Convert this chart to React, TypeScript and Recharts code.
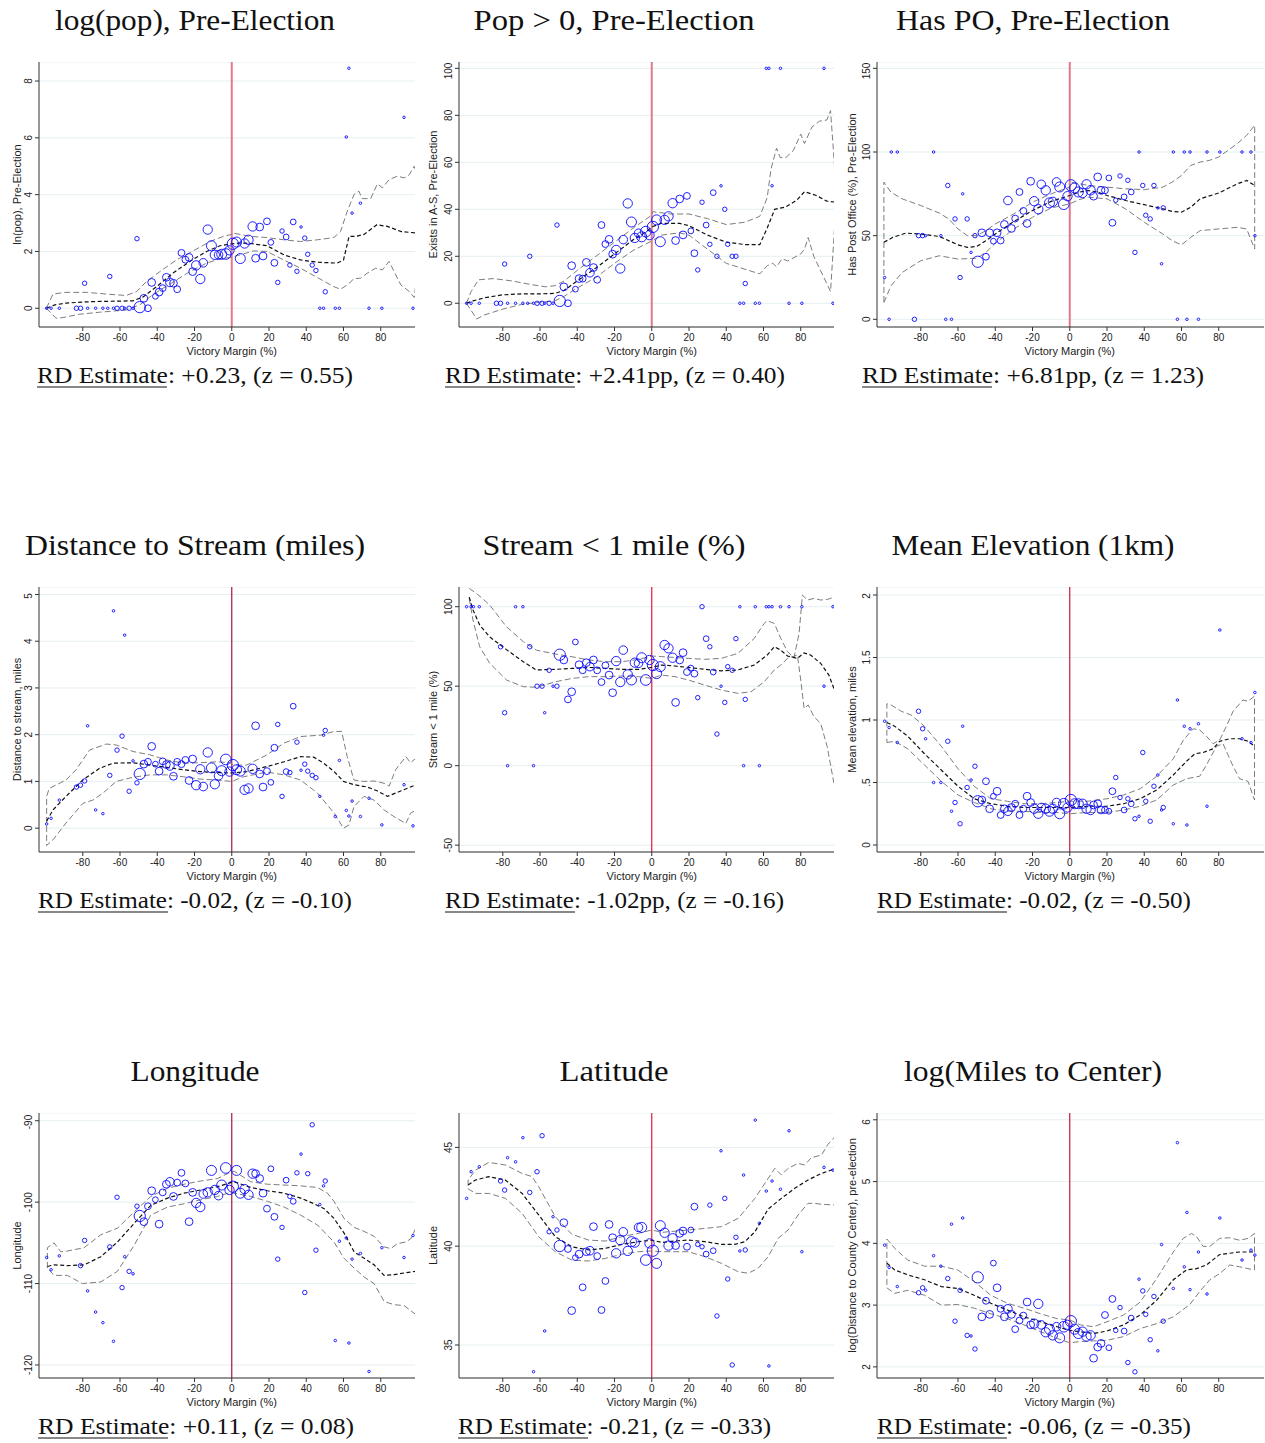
import React from 'react'
import { ScatterChart, Scatter, XAxis, YAxis, ZAxis, CartesianGrid, ReferenceLine } from 'recharts'

type Pt = [number, number]
type Val = number | null

// binned victory margins (%), shared by every panel, with bin weights
const MARGIN = [
  -99.4, -97, -95.8, -92.6, -83.4, -81.2, -79, -77.4, -73.1, -69.2,
  -66.6, -65.5, -63.5, -61.6, -58.9, -57.5, -55.1, -53, -50.9, -49.4,
  -47.2, -45, -43, -41, -39, -37.1, -35.1, -33.2, -31.3, -29.3,
  -27, -24.9, -22.9, -21, -19.1, -16.9, -15.3, -12.9, -10.9, -9.1,
  -7.1, -5.4, -3.2, -1.2, 0.6, 2.6, 4.6, 6.9, 9, 11.2,
  12.8, 15, 16.8, 18.9, 21, 22.9, 24.7, 27, 29.2, 31.2,
  33, 35, 37.2, 39.2, 40.8, 43.2, 45.2, 47.3, 49.3, 50.2,
  55.6, 57.8, 61.5, 62.9, 64.6, 69.1, 73.7, 80.6, 92.5, 97.3,
  99.4,
]
const WEIGHT = [
  1, 1, 1, 1, 2, 2, 2, 1, 1, 1,
  1, 2, 1, 2, 2, 1, 2, 1, 2, 10,
  5, 4, 5, 3, 5, 4, 5, 6, 5, 4,
  4, 4, 5, 5, 7, 7, 6, 7, 8, 7,
  6, 8, 9, 7, 10, 8, 8, 7, 7, 7,
  5, 5, 5, 4, 3, 4, 2, 2, 3, 2,
  3, 2, 1, 2, 2, 2, 2, 1, 1, 2,
  1, 1, 1, 1, 1, 1, 1, 1, 1, 1,
  1,
]

const LOGPOP: Val[] = [
  0, 0, null, 0, 0, 0, 0.88, 0, 0, 0,
  0, 1.12, 0, 0, 0, 0, 0, 0, 2.45, 0.04,
  0.35, 0, 0.91, 0.42, 0.57, 0.71, 1.09, 0.91, 0.88, 0.67,
  1.95, 1.71, 1.79, 1.29, 1.51, 1.03, 1.6, 2.77, 2.2, 1.88,
  1.88, 1.9, 1.91, 2.04, 2.27, 2.33, 1.75, 2.28, 2.41, 2.88,
  1.76, 2.86, 1.84, 3.06, 2.32, 1.6, 0.91, 2.72, 2.51, 1.52,
  3.04, 1.3, 2.86, 2.47, 1.9, 1.52, 1.33, 0, 0, 0.58,
  0, 0, 6.03, 8.45, 3.35, 3.7, 0, 0, 6.72, 0,
  null,
]
const POP0: Val[] = [
  0, 0, null, 0, 0, 0, 16.7, 0, 0, 0,
  0, 20, 0, 0, 0, 0, 0, 0, 33.3, 1,
  7, 0, 16, 6, 10.5, 10.5, 17.4, 13, 15.2, 10,
  33.3, 25.2, 27.2, 20.9, 22.7, 14.8, 27.1, 42.5, 34.6, 27.8,
  29.8, 28.3, 30.5, 29, 32.5, 35.5, 26.2, 35.5, 37, 42.6,
  26.7, 44.4, 29.1, 45.7, 30.8, 21.3, 14.2, 43, 33.3, 25.1,
  47.1, 20, 50, 40, 25.1, 20, 20, 0, 0, 8.4,
  0, 0, 100, 100, 50, 100, 0, 0, 100, 0,
  null,
]
const HASPO: Val[] = [
  25, 0, 100, 100, 0, 50, 50, 50, 100, 50,
  0, 80, 0, 60, 25, 75, 60, 40, 50, 34.4,
  51.7, 37.4, 51.7, 46.7, 51.7, 47.1, 56.7, 71, 54.3, 60.2,
  76.1, 64.8, 57.3, 82.5, 70.6, 65.8, 80.7, 77.1, 69.6, 70.2,
  82.1, 79.1, 68.8, 73.6, 80.1, 78.5, 76.1, 75.5, 80.7, 77.1,
  73.6, 85.1, 77.1, 77.1, 84.5, 57.7, 71.2, 85.7, 73.2, 83.1,
  76.1, 40, 100, 80, 62.2, 60, 80, 66.6, 33.2, 66.6,
  100, 0, 100, 0, 100, 0, 100, 100, 100, 100,
  50,
]
const STREAMDIST: Val[] = [
  0.09, 0.21, null, 0.6, 0.88, 0.92, 1.01, 2.19, 0.39, 0.31,
  null, 1.13, 4.65, 1.67, 1.97, 4.13, 0.79, 1.44, 0.97, 1.16,
  1.37, 1.42, 1.75, 1.37, 1.22, 1.43, 1.36, 1.33, 1.11, 1.42,
  1.37, 1.46, 1.02, 1.48, 0.92, 1.26, 0.89, 1.62, 1.29, 0.94,
  1.12, 1.23, 1.47, 1.21, 1.35, 1.25, 1.22, 0.82, 0.85, 1.27,
  2.19, 1.16, 0.88, 1.22, 0.98, 1.72, 2.22, 0.68, 1.21, 1.19,
  2.61, 1.84, 1.24, 1.37, 1.22, 1.13, 1.08, 0.68, 1.99, 2.09,
  0.25, 1.45, 0.38, 0.26, 0.58, 0.25, 0.64, 0.07, 0.93, 0.05,
  null,
]
const STREAM1: Val[] = [
  100, 100, 100, 100, null, 74.8, 33.3, 0, 100, 100,
  null, 74.8, 0, 50, 50, 33.3, 60, 50, 50, 69.8,
  66.5, 41.7, 46.5, 77.8, 63.5, 60, 64.8, 62.3, 66.5, 60,
  52.6, 63.1, 57, 45.9, 65.8, 52.6, 72.7, 57.4, 53.9, 64.8,
  64.4, 67.9, 53.9, 66.5, 63.3, 57.9, 62.3, 75.9, 73.8, 67.9,
  39.8, 66.5, 71.1, 58.9, 61.4, 57.9, 42.8, 100, 79.9, 74.8,
  58.9, 19.9, 50, 39.8, 62.3, 60, 79.9, 100, 0, 41.7,
  100, 0, 100, 100, 100, 100, 100, 100, 50, 100,
  null,
]
const ELEV: Val[] = [
  0.99, 0.94, null, 0.82, null, 1.07, 0.93, 0.85, 0.5, 0.5,
  null, 0.83, 0.27, 0.34, 0.17, 0.95, 0.46, 0.52, 0.63, 0.35,
  0.36, 0.51, 0.29, 0.39, 0.43, 0.24, 0.29, 0.27, 0.3, 0.33,
  0.24, 0.29, 0.39, 0.34, 0.29, 0.25, 0.3, 0.29, 0.27, 0.29,
  0.34, 0.25, 0.33, 0.3, 0.36, 0.33, 0.33, 0.33, 0.29, 0.28,
  0.32, 0.33, 0.28, 0.28, 0.27, 0.43, 0.54, 0.38, 0.28, 0.37,
  0.33, 0.21, 0.23, 0.74, 0.35, 0.19, 0.47, 0.56, 0.28, 0.3,
  0.17, 1.16, 0.95, 0.16, 0.93, 0.97, 0.31, 1.72, 0.85, 0.82,
  1.22,
]
const LONG: Val[] = [
  -106.8, -108.3, null, -106.6, null, -107.8, -104.7, -110.9, -113.5, -114.8,
  null, -105.5, -117.1, -99.4, -110.5, -106.7, -108.5, -108.8, -100.5, -101.7,
  -102.4, -100.5, -98.6, -99.7, -102.7, -98.8, -97.8, -97.5, -99.3, -97.6,
  -96.4, -97.7, -102.4, -98.8, -100.1, -100.6, -99, -98.8, -96.1, -98.5,
  -99.2, -97.9, -95.8, -98.5, -98.1, -96.1, -98.9, -98.4, -99.1, -96.5,
  -96.5, -97.1, -98.9, -100.8, -95.9, -101.8, -107, -103.1, -97.3, -99.3,
  -99.9, -96.4, -94.1, -111.1, -96.5, -90.5, -105.9, -100.3, -98, -97.4,
  -117, -104.8, -104.4, -117.3, -107, -106.3, -120.8, -105.6, -106.8, -104.1,
  null,
]
const LAT: Val[] = [
  42.42, 43.77, null, 44.02, null, 43.3, 42.84, 44.48, 44.27, 45.49,
  null, 42.72, 33.65, 43.77, 45.59, 35.71, 40.73, 41.49, 40.82, 40.01,
  41.19, 39.86, 36.74, 39.42, 39.6, 37.92, 39.72, 39.77, 40.99, 39.5,
  36.77, 38.24, 41.1, 40.43, 39.64, 40.31, 40.73, 39.76, 40.23, 40.18,
  40.95, 40.95, 39.3, 40.14, 39.77, 39.13, 41.04, 40.68, 40.03, 40.4,
  40.03, 40.65, 40.77, 39.97, 40.82, 42, 40.09, 39.97, 39.6, 42.08,
  39.77, 36.47, 44.83, 42.42, 38.34, 33.99, 40.45, 39.76, 43.6, 39.81,
  46.38, 41.16, 42.79, 33.94, 43.3, 42.88, 45.84, 39.72, 43.99, 43.85,
  null,
]
const CENTERDIST: Val[] = [
  3.97, 3.61, null, 3.3, null, 3.2, 3.28, 3.24, 3.8, 3.63,
  null, 3.43, 4.31, 2.74, 3.24, 4.41, 2.51, 2.5, 2.29, 3.45,
  2.81, 3.07, 2.85, 3.68, 3.28, 2.94, 2.81, 2.94, 2.85, 2.61,
  2.75, 2.83, 3.05, 2.68, 2.7, 3.02, 2.68, 2.56, 2.61, 2.51,
  2.65, 2.47, 2.65, 2.68, 2.74, 2.61, 2.54, 2.57, 2.49, 2.51,
  2.14, 2.32, 2.38, 2.84, 2.31, 3.1, 2.59, 2.96, 2.58, 2.07,
  2.79, 1.92, 3.42, 3.23, 2.85, 2.44, 3.14, 2.26, 3.98, 2.74,
  3.27, 5.63, 3.62, 4.5, 3.25, 3.86, 3.18, 4.41, 3.73, 3.89,
  3.81,
]

// local polynomial fit and 95% CI
const LOGPOP_MID: Pt[] = [[-99.5, 0], [-95, 0.12], [-89, 0.18], [-80, 0.22], [-71, 0.24], [-62, 0.25], [-53, 0.26], [-47.6, 0.4], [-40.4, 0.76], [-31.5, 1.24], [-22.5, 1.65], [-13.5, 2], [-6.3, 2.2], [0, 2.27], [5, 2.3], [10, 2.28], [19, 2.2], [28, 1.88], [37, 1.7], [46, 1.62], [56.6, 1.59], [60, 1.7], [63, 2.53], [66.5, 2.53], [71, 2.6], [78, 2.94], [83.6, 2.88], [91, 2.7], [99, 2.65]]
const LOGPOP_UP: Pt[] = [[-99.5, 0], [-96, 0.5], [-89, 0.56], [-78, 0.56], [-65.6, 0.49], [-56.6, 0.45], [-51, 0.59], [-45.8, 0.94], [-38.6, 1.29], [-29.7, 1.7], [-20.7, 2.02], [-11.7, 2.35], [-4.5, 2.53], [0, 2.6], [0.5, 2.65], [9.9, 2.53], [18.9, 2.49], [27.9, 2.41], [36.9, 2.35], [46, 2.41], [54.8, 2.49], [58.4, 2.7], [62, 3.41], [65.6, 4], [68.3, 4.12], [70, 3.86], [74.6, 3.86], [78.2, 4.38], [80.9, 4.24], [84.5, 4.53], [89, 4.65], [92.6, 4.59], [95.3, 4.7], [98, 5], [99, 4.8]]
const LOGPOP_LO: Pt[] = [[-99.5, 0], [-94.4, -0.35], [-90.8, -0.33], [-81.8, -0.21], [-71, -0.14], [-56.6, -0.06], [-49.4, 0.12], [-42.2, 0.49], [-31.5, 0.92], [-22.5, 1.29], [-13.5, 1.59], [-6.3, 1.74], [0, 1.8], [4.5, 1.88], [11.7, 2.02], [18.9, 2], [27.9, 1.7], [36.9, 1.41], [46, 1.08], [54.8, 0.76], [58.4, 0.67], [62, 0.82], [65.6, 1.04], [69.2, 1.06], [72.8, 1.24], [77.3, 1.41], [80.9, 1.35], [84.5, 1.65], [87.2, 1.29], [90.8, 0.82], [95.3, 0.59], [98, 0.38], [99, 0.94]]

const POP0_MID: Pt[] = [[-99.5, 0], [-96, 1], [-90, 2.3], [-80, 3.6], [-70, 4], [-60, 4], [-52, 4.2], [-47, 5.5], [-40, 9.5], [-30, 15], [-20, 21], [-10, 27], [-3, 30.5], [0, 32.5], [5, 34], [15, 34], [20, 33], [30, 29], [40, 26], [50, 25], [58, 25], [62, 32], [66, 40], [72, 41], [78, 44], [82, 47.5], [88, 46], [94, 43.5], [99, 43]]
const POP0_UP: Pt[] = [[-99.5, 0], [-97, 5], [-93, 10], [-85, 10.5], [-75, 9.5], [-65, 8], [-57, 7], [-52, 7.5], [-47, 9.5], [-40, 14], [-30, 20], [-20, 26], [-10, 32], [0, 37.5], [0.5, 39], [10, 38], [20, 38], [30, 36], [40, 33.5], [50, 34.5], [58, 37], [62, 45], [64, 57], [67, 66], [69, 62], [72, 62], [76, 65], [80, 72], [82, 68], [86, 75], [90, 77.5], [94, 78], [96, 82], [98, 60], [99, 46]]
const POP0_LO: Pt[] = [[-99.5, 0], [-97, -3], [-94, -6.7], [-90, -5], [-80, -2.5], [-70, -0.5], [-60, 0.5], [-52, 1], [-47, 3], [-40, 6.5], [-30, 11], [-20, 17], [-10, 22.5], [0, 26.5], [5, 29], [15, 30], [20, 29], [30, 23], [40, 17], [50, 14.5], [58, 12.5], [62, 16], [65, 17], [67, 15.5], [70, 19], [73, 18], [80, 21], [82, 23], [84, 28], [87, 20], [90, 15], [96, 5], [99, 43]]

const HASPO_MID: Pt[] = [[-99.8, 46], [-95, 49], [-88, 51.5], [-80, 51], [-70, 49.5], [-60, 44.5], [-55, 43], [-50, 43.5], [-45, 47], [-40, 51], [-30, 58.5], [-20, 65], [-10, 70.5], [0, 74], [5, 76], [10, 77], [15, 76], [20, 74], [30, 71], [40, 68.5], [50, 66], [55, 64.5], [60, 64], [65, 67], [70, 72], [80, 75.5], [90, 81], [95, 83], [99.3, 80]]
const HASPO_UP: Pt[] = [[-99.8, 82], [-96, 76], [-90, 72], [-80, 68], [-70, 63.5], [-65, 60], [-60, 54], [-55, 50], [-50, 50], [-45, 53], [-40, 57], [-30, 63], [-20, 70], [-10, 75], [0, 79], [0.5, 82], [10, 80], [20, 79], [30, 78], [40, 77.5], [50, 79], [55, 82], [60, 86], [65, 92], [70, 94], [75, 95], [80, 97], [90, 105], [95, 110], [99.3, 116]]
const HASPO_LO: Pt[] = [[-99.8, 10], [-96, 20], [-90, 28], [-80, 35], [-70, 38], [-60, 36], [-50, 36.5], [-45, 40], [-40, 45.5], [-30, 54], [-20, 61], [-10, 66.5], [0, 69], [5, 71.5], [10, 73], [20, 72], [30, 66], [40, 58], [50, 51], [55, 47], [60, 44.5], [65, 49], [70, 53], [80, 54], [90, 55], [95, 54], [99.3, 42]]

const STREAMDIST_MID: Pt[] = [[-99.4, 0.15], [-96, 0.39], [-89, 0.68], [-80, 1.03], [-71, 1.28], [-63.8, 1.39], [-53, 1.4], [-44, 1.35], [-35, 1.3], [-26, 1.25], [-17, 1.21], [-8, 1.19], [0, 1.18], [8, 1.21], [19, 1.32], [28, 1.42], [37, 1.53], [44, 1.52], [49.4, 1.39], [55, 1.21], [60, 1], [65.6, 0.93], [72.8, 0.88], [78, 0.8], [83.6, 0.68], [91, 0.8], [99, 0.93]]
const STREAMDIST_UP: Pt[] = [[-99.4, 0.68], [-98, 0.85], [-89, 1.03], [-83.6, 1.25], [-76.4, 1.67], [-67.4, 1.8], [-62, 1.78], [-53, 1.64], [-44, 1.57], [-35, 1.46], [-26, 1.39], [-17, 1.4], [-8, 1.42], [-1, 1.4], [1, 1.35], [8, 1.35], [19, 1.57], [28, 1.82], [37, 1.96], [47.6, 1.99], [55, 2.07], [59, 2.07], [62, 1.53], [65.6, 1.03], [71, 1], [76.4, 1.01], [81.8, 0.96], [84.5, 0.9], [88, 1.25], [93.5, 1.53], [96, 1.4], [99, 1.5]]
const STREAMDIST_LO: Pt[] = [[-99.4, -0.37], [-96, -0.25], [-89, 0.11], [-80, 0.53], [-74.6, 0.6], [-69.2, 0.75], [-62, 1], [-53, 1.09], [-44, 1.14], [-35, 1.14], [-26, 1.1], [-17, 1.05], [-8, 1.03], [0, 1], [6.3, 1.1], [19, 1.2], [28, 1.14], [37, 1.03], [46, 0.75], [55, 0.32], [60, 0], [63, 0.07], [65.6, 0.46], [71, 0.68], [76.4, 0.6], [81.8, 0.39], [87, 0.25], [93.5, 0.1], [96, 0.32], [99, 0.39]]

const STREAM1_MID: Pt[] = [[-98, 106], [-96, 98], [-92.4, 88.5], [-87, 81], [-78, 73], [-69, 65.4], [-62, 60.2], [-51.6, 60.6], [-42.7, 61.2], [-33.8, 61.8], [-24.9, 61.2], [-16, 60.6], [-7, 60.6], [0, 61.8], [5.3, 63.3], [12.4, 62.7], [19.6, 61.8], [28.4, 60.6], [37.3, 59.7], [46.2, 60.2], [55, 63.3], [62, 69.6], [65.8, 74.8], [69.3, 72.7], [72.9, 69], [78.2, 67.5], [81.8, 71], [85.3, 69.6], [90.7, 64.4], [95.1, 57], [97.8, 48.6]]
const STREAM1_UP: Pt[] = [[-98, 111.5], [-94.2, 108.4], [-90.7, 105], [-87, 101], [-78, 87.4], [-69, 78], [-62, 72.7], [-51.6, 70.2], [-42.7, 68.5], [-33.8, 66.5], [-24.9, 65.4], [-16, 65.4], [-7, 66.9], [0, 69], [5.3, 68.6], [19.6, 67.5], [28.4, 66.9], [37.3, 67.5], [46.2, 70.6], [55, 80], [60.4, 89.5], [62, 91.2], [65.8, 89.5], [69.3, 80], [72.9, 71.7], [76.4, 67.9], [79.1, 83.2], [80.9, 107.3], [83.6, 104.2], [87.1, 105.2], [90.7, 104.2], [94.2, 104.6], [97.8, 105.9]]
const STREAM1_LO: Pt[] = [[-98, 105.2], [-96, 91.6], [-92.4, 74.8], [-87, 64.4], [-78, 53.9], [-69, 49.7], [-62, 49.3], [-51.6, 52.8], [-42.7, 54.9], [-33.8, 56], [-24.9, 56], [-16, 56.4], [-7, 56], [0, 54.9], [5.3, 57], [12.4, 56], [19.6, 53.9], [28.4, 50.7], [37.3, 47.6], [46.2, 45.5], [53.3, 46.5], [60.4, 52.8], [65.8, 60.2], [69.3, 63.3], [72.9, 67.5], [78.2, 69.6], [80, 53.9], [81.8, 36], [84, 38.2], [87.1, 30.8], [90.7, 26.6], [94.2, 12], [97.8, -11]]

const ELEV_MID: Pt[] = [[-98.2, 0.98], [-94, 0.95], [-87, 0.87], [-78, 0.73], [-69, 0.6], [-60, 0.47], [-51.3, 0.37], [-42.4, 0.33], [-33.5, 0.31], [-24.6, 0.3], [-15.7, 0.3], [-6.8, 0.3], [0, 0.3], [9.3, 0.31], [20, 0.31], [28.9, 0.33], [37.8, 0.37], [46.7, 0.44], [55.6, 0.56], [62.7, 0.67], [67.2, 0.73], [71.6, 0.74], [77, 0.77], [80.5, 0.83], [85.9, 0.85], [91.2, 0.85], [95.7, 0.83], [99.2, 0.79]]
const ELEV_UP: Pt[] = [[-98.2, 1.13], [-95.9, 1.12], [-90.5, 1.07], [-85.2, 1.04], [-78, 0.95], [-69, 0.79], [-60, 0.61], [-51.3, 0.47], [-42.4, 0.37], [-33.5, 0.35], [-24.6, 0.33], [-15.7, 0.33], [-6.8, 0.34], [0, 0.35], [9.3, 0.35], [20, 0.37], [28.9, 0.4], [37.8, 0.45], [46.7, 0.55], [55.6, 0.69], [61, 0.84], [66.3, 0.93], [69.8, 0.92], [73.4, 0.87], [77, 0.81], [80.5, 0.84], [84.1, 0.95], [87.7, 1.07], [93, 1.16], [95.7, 1.15], [99.2, 1.19]]
const ELEV_LO: Pt[] = [[-98.2, 0.82], [-94, 0.83], [-87, 0.77], [-78, 0.64], [-69, 0.51], [-60, 0.4], [-51.3, 0.34], [-42.4, 0.29], [-33.5, 0.27], [-24.6, 0.27], [-15.7, 0.26], [-6.8, 0.26], [0, 0.25], [9.3, 0.26], [20, 0.26], [28.9, 0.28], [37.8, 0.31], [46.7, 0.36], [55.6, 0.48], [62.7, 0.53], [69.8, 0.55], [73.4, 0.64], [78.8, 0.79], [82.3, 0.81], [87.7, 0.63], [91.2, 0.53], [95.7, 0.51], [99.2, 0.36]]

const LONG_MID: Pt[] = [[-99, -107.9], [-95.4, -107.7], [-88.2, -107.8], [-79.3, -107.7], [-70.3, -106.7], [-61.4, -104.9], [-52.4, -102.6], [-43.5, -100.4], [-34.5, -99.5], [-25.6, -98.9], [-16.6, -98.5], [-7.7, -98.1], [-0.5, -97.6], [1.3, -97.5], [10.2, -98.2], [19.2, -98.6], [28.1, -98.9], [37, -99.5], [44.2, -100.2], [49.6, -100.8], [54.9, -102], [60.3, -103.8], [65.7, -106.1], [71.1, -106.9], [76.4, -107.7], [81.8, -109], [87.2, -108.9], [92.5, -108.7], [98.8, -108.5]]
const LONG_UP: Pt[] = [[-99, -105.6], [-95.4, -105], [-91.8, -106.1], [-88.2, -106], [-79.3, -105.6], [-70.3, -104], [-61.4, -103.2], [-52.4, -101.2], [-43.5, -99.3], [-34.5, -98.3], [-25.6, -97.8], [-16.6, -97.4], [-7.7, -97.1], [-0.5, -96.3], [1.3, -96.2], [10.2, -97.5], [19.2, -97.8], [28.1, -97.9], [37, -98], [46, -98.2], [51.4, -98.9], [54.9, -99.9], [60.3, -102], [65.7, -103.1], [71.1, -103.6], [76.4, -104.2], [81.8, -105.5], [85.4, -105.7], [88.9, -105.1], [93.4, -104.9], [96.1, -104.5], [98.8, -103.2]]
const LONG_LO: Pt[] = [[-99, -108.1], [-95.4, -109], [-88.2, -109], [-80.2, -110], [-70.3, -109.8], [-61.4, -108.5], [-52.4, -105.3], [-43.5, -101.6], [-34.5, -100.6], [-25.6, -100.2], [-16.6, -99.7], [-7.7, -99.3], [-0.5, -98.8], [1.3, -98.9], [10.2, -99.3], [19.2, -99.9], [28.1, -100.6], [37, -101.6], [46, -102.8], [54.9, -104.9], [60.3, -106.9], [65.7, -108.1], [71.1, -109.2], [76.4, -110], [81.8, -112.2], [87.2, -112.6], [92.5, -112.7], [98.8, -113.8]]

const LAT_MID: Pt[] = [[-98.6, 43.1], [-94.6, 43.35], [-87.5, 43.52], [-78.6, 43.35], [-69.6, 42.67], [-60.7, 41.58], [-51.8, 40.48], [-42.9, 39.97], [-33.9, 39.81], [-25, 39.89], [-16.1, 40.09], [-7.1, 40.23], [0, 40.31], [5.4, 40.19], [12.5, 40.26], [19.6, 40.31], [28.6, 40.23], [37.5, 40.09], [44.6, 40.09], [50, 40.23], [55.4, 40.73], [62.5, 41.88], [69.6, 42.42], [76.8, 42.93], [83.9, 43.35], [91.1, 43.68], [99.1, 43.94]]
const LAT_UP: Pt[] = [[-98.6, 43.35], [-94.6, 43.85], [-87.5, 44.24], [-78.6, 44.11], [-69.6, 43.68], [-64.3, 43.52], [-60.7, 43.01], [-51.8, 41.49], [-42.9, 40.6], [-33.9, 40.31], [-25, 40.26], [-16.1, 40.48], [-7.1, 40.65], [0, 40.82], [5.4, 40.7], [19.6, 40.82], [28.6, 40.9], [37.5, 40.99], [46.4, 41.41], [55.4, 42.42], [62.5, 43.43], [66.1, 43.94], [69.6, 43.6], [73.2, 43.94], [78.6, 44.19], [82.1, 44.11], [85.7, 44.48], [91.1, 44.61], [94.6, 45.15], [99.1, 45.62]]
const LAT_LO: Pt[] = [[-98.6, 42.9], [-94.6, 42.67], [-87.5, 42.67], [-78.6, 42.42], [-69.6, 41.66], [-60.7, 40.48], [-51.8, 39.72], [-42.9, 39.3], [-33.9, 39.25], [-25, 39.38], [-16.1, 39.59], [-7.1, 39.72], [0, 39.76], [5.4, 39.72], [19.6, 39.72], [28.6, 39.47], [37.5, 39.13], [46.4, 38.71], [51.8, 38.63], [57.1, 38.88], [62.5, 39.47], [67.9, 40.4], [73.2, 40.82], [78.6, 41.58], [83.9, 42.17], [87.5, 42.17], [91.1, 42.12], [99.1, 42.08]]

const CENTERDIST_MID: Pt[] = [[-98.2, 3.68], [-94, 3.57], [-87, 3.49], [-78, 3.41], [-69, 3.3], [-60.2, 3.27], [-51.3, 3.16], [-42.4, 3.03], [-33.5, 2.92], [-24.6, 2.81], [-15.7, 2.73], [-6.8, 2.65], [0, 2.59], [5.7, 2.57], [12.8, 2.54], [20, 2.58], [28.9, 2.68], [37.8, 2.84], [46.7, 3.08], [55.6, 3.41], [62.7, 3.57], [68.1, 3.59], [73.4, 3.65], [80.5, 3.82], [85.9, 3.84], [91.2, 3.86], [99.2, 3.86]]
const CENTERDIST_UP: Pt[] = [[-98.2, 4.07], [-94, 3.92], [-87, 3.73], [-78, 3.63], [-69, 3.63], [-60.2, 3.57], [-51.3, 3.38], [-42.4, 3.16], [-33.5, 3.03], [-24.6, 2.95], [-15.7, 2.86], [-6.8, 2.78], [0, 2.76], [5.7, 2.68], [12.8, 2.65], [20, 2.73], [28.9, 2.84], [37.8, 3.05], [46.7, 3.43], [55.6, 3.86], [60.9, 4.08], [65.4, 4.16], [68.1, 4.11], [71.6, 3.95], [75.2, 3.95], [80.5, 4.08], [85.9, 4.09], [91.2, 4.05], [95.7, 4.08], [99.2, 4.16]]
const CENTERDIST_LO: Pt[] = [[-98.2, 3.28], [-94, 3.19], [-87, 3.24], [-78, 3.16], [-69, 3], [-60.2, 3.01], [-51.3, 2.95], [-42.4, 2.86], [-33.5, 2.78], [-24.6, 2.68], [-15.7, 2.57], [-6.8, 2.46], [0, 2.39], [5.7, 2.41], [12.8, 2.42], [20, 2.43], [28.9, 2.49], [37.8, 2.62], [46.7, 2.7], [55.6, 2.81], [64.5, 3.01], [69.8, 3.22], [75.2, 3.41], [80.5, 3.51], [85.9, 3.65], [91.2, 3.62], [95.7, 3.59], [99.2, 3.57]]

const X_TICKS = [-80, -60, -40, -20, 0, 20, 40, 60, 80]
const X_DOMAIN: [number, number] = [-103.5, 104.3]

const PANELS = [
  { title: 'log(pop), Pre-Election', ylab: 'ln(pop), Pre-Election', y: LOGPOP, mid: LOGPOP_MID, up: LOGPOP_UP, lo: LOGPOP_LO, domain: [-0.66, 8.67], ticks: [0, 2, 4, 6, 8], rd: '+0.23, (z = 0.55)', lc: false, rc: false },
  { title: 'Pop > 0, Pre-Election', ylab: 'Exists in A-S, Pre-Election', y: POP0, mid: POP0_MID, up: POP0_UP, lo: POP0_LO, domain: [-10.1, 102.7], ticks: [0, 20, 40, 60, 80, 100], rd: '+2.41pp, (z = 0.40)', lc: false, rc: false },
  { title: 'Has PO, Pre-Election', ylab: 'Has Post Office (%), Pre-Election', y: HASPO, mid: HASPO_MID, up: HASPO_UP, lo: HASPO_LO, domain: [-4.6, 153.8], ticks: [0, 50, 100, 150], rd: '+6.81pp, (z = 1.23)', lc: true, rc: true },
  { title: 'Distance to Stream (miles)', ylab: 'Distance to stream, miles', y: STREAMDIST, mid: STREAMDIST_MID, up: STREAMDIST_UP, lo: STREAMDIST_LO, domain: [-0.51, 5.16], ticks: [0, 1, 2, 3, 4, 5], rd: '-0.02, (z = -0.10)', lc: true, rc: false },
  { title: 'Stream < 1 mile (%)', ylab: 'Stream < 1 mile (%)', y: STREAM1, mid: STREAM1_MID, up: STREAM1_UP, lo: STREAM1_LO, domain: [-54.3, 112.4], ticks: [-50, 0, 50, 100], rd: '-1.02pp, (z = -0.16)', lc: false, rc: false },
  { title: 'Mean Elevation (1km)', ylab: 'Mean elevation, miles', y: ELEV, mid: ELEV_MID, up: ELEV_UP, lo: ELEV_LO, domain: [-0.056, 2.064], ticks: [0, 0.5, 1, 1.5, 2], rd: '-0.02, (z = -0.50)', lc: true, rc: true },
  { title: 'Longitude', ylab: 'Longitude', y: LONG, mid: LONG_MID, up: LONG_UP, lo: LONG_LO, domain: [-121.6, -89.05], ticks: [-120, -110, -100, -90], rd: '+0.11, (z = 0.08)', lc: true, rc: false },
  { title: 'Latitude', ylab: 'Latitude', y: LAT, mid: LAT_MID, up: LAT_UP, lo: LAT_LO, domain: [33.33, 46.74], ticks: [35, 40, 45], rd: '-0.21, (z = -0.33)', lc: true, rc: false },
  { title: 'log(Miles to Center)', ylab: 'log(Distance to County Center), pre-election', y: CENTERDIST, mid: CENTERDIST_MID, up: CENTERDIST_UP, lo: CENTERDIST_LO, domain: [1.82, 6.11], ticks: [2, 3, 4, 5, 6], rd: '-0.06, (z = -0.35)', lc: true, rc: true },
]

// layout
const PW = 387
const PH = 265
const YW = 40
const XH = 24
const COL_LEFT = [39, 459, 877]
const COL_CLIP = [415, 834, 1265]
const ROW_TOP = [62, 587, 1113]
const TITLE_CX = [195, 614, 1033]
const TITLE_W = [280, 281, 274, 340, 263, 283, 129, 109, 258]
const RD_X = [37, 445, 862, 38, 445, 877, 38, 458, 877]
const RD_W = [316, 340, 342, 314, 339, 314, 316, 313, 314]
const CUT = ['#e2788c', '#e2788c', '#e2788c', '#a3163c', '#e31a3a', '#c8163a', '#a3163c', '#e31a3a', '#c8163a']
const CUT_W = [2, 2, 2, 1.2, 1.2, 1.2, 1.2, 1.2, 1.2]

const SANS = "'Liberation Sans', Arial, sans-serif"
const SERIF = "'Liberation Serif', 'Times New Roman', serif"

const toPts = (a: Pt[]) => a.map(([x, y]) => ({ x, y }))

function bandLines(lo: Pt[], up: Pt[], lc: boolean, rc: boolean) {
  const L = toPts(lo)
  const U = toPts(up).reverse()
  if (lc && rc) return [[...L, ...U, L[0]]]
  if (lc) return [[...U, ...L]]
  if (rc) return [[...L, ...U]]
  return [L, toPts(up)]
}

const fmtY = (v: number) => String(v).replace(/^0\./, '.').replace(/^-0\./, '-.')

function YTick(props: any) {
  const { x, y, payload } = props
  return (
    <text x={x} y={y} transform={`rotate(-90 ${x} ${y})`} textAnchor="middle" fontSize={10} fill="#222" fontFamily={SANS}>
      {fmtY(payload.value)}
    </text>
  )
}

function Bubble(props: any) {
  const r = props.width ? props.width / 2 : Math.sqrt((props.size || 5) / Math.PI)
  return <circle cx={props.cx} cy={props.cy} r={r} fill="none" stroke="#0a0aff" strokeWidth={0.9} />
}

const noDot = () => <g />

function Panel({ i }: { i: number }) {
  const p = PANELS[i]
  const col = i % 3
  const row = Math.floor(i / 3)
  const left = COL_LEFT[col] - YW
  const pts = MARGIN.map((x, k) => ({ x, y: p.y[k], w: WEIGHT[k] })).filter((d) => d.y !== null)
  const bands = bandLines(p.lo, p.up, p.lc, p.rc)
  return (
    <div style={{ position: 'absolute', left, top: ROW_TOP[row], width: COL_CLIP[col] - left, height: PH + XH, overflow: 'hidden' }}>
      <ScatterChart width={YW + PW} height={PH + XH} margin={{ top: 0, right: 0, bottom: 0, left: 0 }}>
        <CartesianGrid vertical={false} stroke="#e6eff1" />
        <XAxis type="number" dataKey="x" domain={X_DOMAIN} ticks={X_TICKS} allowDataOverflow height={XH} tickSize={4} tickMargin={3} stroke="#333" tick={{ fontSize: 10, fill: '#222', fontFamily: SANS }} />
        <YAxis type="number" dataKey="y" domain={p.domain as [number, number]} ticks={p.ticks} allowDataOverflow width={YW} tickSize={4} tickMargin={3} stroke="#333" tick={(t: any) => <YTick {...t} />} />
        <ZAxis type="number" dataKey="w" domain={[1, 10]} range={[5, 100]} />
        <ReferenceLine x={0} stroke={CUT[i]} strokeWidth={CUT_W[i]} />
        {bands.map((b, k) => (
          <Scatter key={k} data={b} shape={noDot} line={{ stroke: '#7d7d7d', strokeWidth: 1, strokeDasharray: '6 3' }} isAnimationActive={false} />
        ))}
        <Scatter data={toPts(p.mid)} shape={noDot} line={{ stroke: '#111', strokeWidth: 1.2, strokeDasharray: '4 2.5' }} isAnimationActive={false} />
        <Scatter data={pts} shape={Bubble} isAnimationActive={false} />
      </ScatterChart>
    </div>
  )
}

function Labels() {
  return (
    <svg width={1265} height={1443} style={{ position: 'absolute', left: 0, top: 0, pointerEvents: 'none' }}>
      {PANELS.map((p, i) => {
        const col = i % 3
        const row = Math.floor(i / 3)
        const top = ROW_TOP[row]
        const zeroX = COL_LEFT[col] + (-X_DOMAIN[0] / (X_DOMAIN[1] - X_DOMAIN[0])) * PW
        const ylx = [16.5, 433, 852][col]
        const rdY = top + 321
        return (
          <g key={i}>
            <text x={TITLE_CX[col]} y={top - 32} textAnchor="middle" fontFamily={SERIF} fontSize={29} fill="#111" textLength={TITLE_W[i]} lengthAdjust="spacingAndGlyphs">
              {p.title}
            </text>
            <text x={ylx} y={top + PH / 2} transform={`rotate(-90 ${ylx} ${top + PH / 2})`} textAnchor="middle" dominantBaseline="central" fontFamily={SANS} fontSize={11} fill="#222">
              {p.ylab}
            </text>
            <text x={zeroX} y={top + PH + 24} textAnchor="middle" dominantBaseline="central" fontFamily={SANS} fontSize={11} fill="#222">
              Victory Margin (%)
            </text>
            <text x={RD_X[i]} y={rdY} fontFamily={SERIF} fontSize={23} fill="#111" textLength={RD_W[i]} lengthAdjust="spacingAndGlyphs">
              RD Estimate: {p.rd}
            </text>
            <line x1={RD_X[i]} x2={RD_X[i] + 130} y1={rdY + 4} y2={rdY + 4} stroke="#111" strokeWidth={1} />
          </g>
        )
      })}
    </svg>
  )
}

export default function App() {
  return (
    <div style={{ position: 'absolute', left: 0, top: 0, width: 1265, height: 1443, background: '#fff', overflow: 'hidden', fontFamily: SANS }}>
      {PANELS.map((_, i) => (
        <Panel key={i} i={i} />
      ))}
      <Labels />
    </div>
  )
}
